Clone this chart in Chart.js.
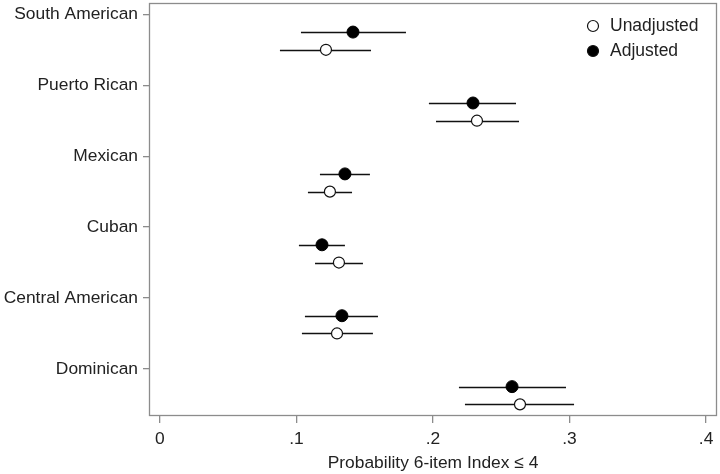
<!DOCTYPE html>
<html>
<head>
<meta charset="utf-8">
<script src="https://cdn.jsdelivr.net/npm/chart.js@4.4.1/dist/chart.umd.min.js"></script>
<style>
html,body{margin:0;padding:0;background:#fff;}
#wrap{width:720px;height:474px;}
</style>
</head>
<body>
<div id="wrap"><canvas id="c" width="720" height="474"></canvas></div>
<script>
const categories = ["South American","Puerto Rican","Mexican","Cuban","Central American","Dominican"];
const adjEst  = [0.1414,0.2293,0.1355,0.1187,0.1333,0.2579];
const adjLo   = [0.1033,0.1970,0.1172,0.1018,0.1062,0.2190];
const adjHi   = [0.1802,0.2608,0.1538,0.1355,0.1597,0.2974];
const unEst   = [0.1216,0.2322,0.1245,0.1311,0.1297,0.2637];
const unLo    = [0.0879,0.2022,0.1084,0.1136,0.1040,0.2234];
const unHi    = [0.1546,0.2630,0.1407,0.1487,0.1560,0.3033];
const xTicks  = [0,0.1,0.2,0.3,0.4];
const xTickLabels = ["0",".1",".2",".3",".4"];
const seriesNames = ["Unadjusted","Adjusted"];

const ADJ_OFF = 0.25, UN_OFF = 0.5;
const FONT = "'Liberation Sans', Arial, Helvetica, sans-serif";
const FS = 17.4;

const adjData = adjEst.map((v,i)=>({x:v,y:i+ADJ_OFF,lo:adjLo[i],hi:adjHi[i]}));
const unData  = unEst.map((v,i)=>({x:v,y:i+UN_OFF,lo:unLo[i],hi:unHi[i]}));

const ciPlugin = {
  id:'ci',
  beforeDatasetsDraw(chart){
    const {ctx, scales:{x,y}} = chart;
    ctx.save();
    ctx.strokeStyle = '#111';
    ctx.lineWidth = 1.4;
    chart.data.datasets.forEach(ds=>{
      ds.data.forEach(p=>{
        const py = Math.round(y.getPixelForValue(p.y))+0.5;
        ctx.beginPath();
        ctx.moveTo(x.getPixelForValue(p.lo), py);
        ctx.lineTo(x.getPixelForValue(p.hi), py);
        ctx.stroke();
      });
    });
    ctx.restore();
  },
  afterDraw(chart){
    const {ctx, chartArea:a} = chart;
    ctx.save();
    ctx.strokeStyle = '#8c8c8c';
    ctx.lineWidth = 1.3;
    ctx.strokeRect(Math.round(a.left)+0.5, Math.round(a.top)+0.5, Math.round(a.right-a.left)-1, Math.round(a.bottom-a.top));
    // legend
    const lx = a.right - 124, ly0 = a.top + 23, gap = 25;
    ctx.font = '17.5px ' + FONT;
    ctx.textBaseline = 'middle';
    ctx.textAlign = 'left';
    const order = [1,0];
    order.forEach((di,k)=>{
      const ds = chart.data.datasets[di];
      const yy = ly0 + k*gap;
      ctx.beginPath();
      ctx.arc(lx, yy, 5.5, 0, Math.PI*2);
      ctx.fillStyle = ds.pointBackgroundColor;
      ctx.fill();
      ctx.lineWidth = 1.2;
      ctx.strokeStyle = '#111';
      ctx.stroke();
      ctx.fillStyle = '#222';
      ctx.fillText(ds.label, lx + 17, yy);
    });
    ctx.restore();
  }
};

new Chart(document.getElementById('c'), {
  type:'scatter',
  data:{datasets:[
    {label:seriesNames[1], data:adjData, pointRadius:6, pointHoverRadius:6,
     pointBackgroundColor:'#000', pointBorderColor:'#000', pointBorderWidth:1, clip:false},
    {label:seriesNames[0], data:unData, pointRadius:5.5, pointHoverRadius:5.5,
     pointBackgroundColor:'#fff', pointBorderColor:'#111', pointBorderWidth:1.2, clip:false}
  ]},
  options:{
    responsive:false,
    animation:false,
    events:[],
    layout:{autoPadding:false, padding:{top:3,right:3,left:0,bottom:0}},
    plugins:{legend:{display:false},tooltip:{enabled:false}},
    scales:{
      x:{
        type:'linear', min:-0.008, max:0.408,
        afterBuildTicks(s){ s.ticks = xTicks.map(v=>({value:v})); },
        afterFit(s){ s.height = 59; s.paddingLeft = 0; s.paddingRight = 0; },
        ticks:{color:'#222', font:{size:FS, family:FONT}, padding:6,
          callback:(v)=>{ const i = xTicks.findIndex(t=>Math.abs(t-v)<1e-9); return i>=0?xTickLabels[i]:''; }},
        grid:{drawOnChartArea:false, drawTicks:true, tickLength:8, color:'#8c8c8c', lineWidth:1.3},
        border:{display:false},
        title:{display:true, text:'Probability 6-item Index ≤ 4', color:'#222', font:{size:FS, family:FONT}, padding:{top:0,bottom:0}}
      },
      y:{
        type:'linear', reverse:true, min:-0.16, max:5.65,
        afterBuildTicks(s){ s.ticks = categories.map((c,i)=>({value:i})); },
        afterFit(s){ s.width = 149; s.paddingTop = 0; s.paddingBottom = 0; },
        ticks:{color:'#222', font:{size:FS, family:FONT}, padding:5,
          callback:(v)=>categories[Math.round(v)] ?? ''},
        grid:{drawOnChartArea:false, drawTicks:true, tickLength:6, color:'#8c8c8c', lineWidth:1.3},
        border:{display:false}
      }
    }
  },
  plugins:[ciPlugin]
});
</script>
</body>
</html>
